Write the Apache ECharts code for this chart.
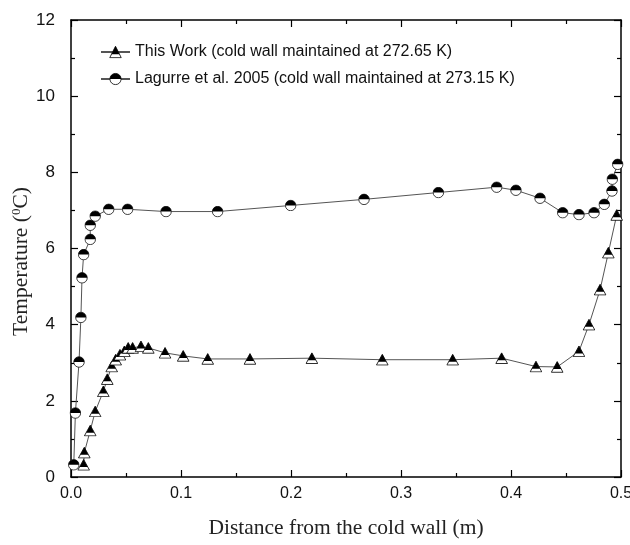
<!DOCTYPE html>
<html>
<head>
<meta charset="utf-8">
<script src="https://cdn.jsdelivr.net/npm/echarts@6/dist/echarts.min.js"></script>
<style>html,body{margin:0;padding:0;background:#fff}#c{width:630px;height:545px}</style>
</head>
<body>
<div id="c"></div>
<script>
const xThis = [0.0115, 0.0121, 0.0175, 0.022, 0.0294, 0.033, 0.037, 0.0406, 0.0445, 0.0485, 0.052, 0.056, 0.0636, 0.0703, 0.0855, 0.102, 0.1243, 0.1627, 0.219, 0.283, 0.347, 0.3915, 0.4227, 0.442, 0.4618, 0.4709, 0.481, 0.4885, 0.4961];
const yThis = [0.32, 0.64, 1.22, 1.72, 2.25, 2.57, 2.90, 3.08, 3.21, 3.30, 3.39, 3.39, 3.43, 3.39, 3.26, 3.18, 3.10, 3.10, 3.12, 3.08, 3.08, 3.12, 2.90, 2.89, 3.30, 4.00, 4.92, 5.89, 6.88];
const xLag = [0.0025, 0.004, 0.0073, 0.009, 0.01, 0.0115, 0.0175, 0.0175, 0.022, 0.0343, 0.0515, 0.0864, 0.1333, 0.1997, 0.2664, 0.334, 0.387, 0.4045, 0.4264, 0.447, 0.4618, 0.4755, 0.4848, 0.4918, 0.4921, 0.497];
const yLag = [0.32, 1.68, 3.02, 4.19, 5.23, 5.84, 6.24, 6.61, 6.85, 7.03, 7.03, 6.97, 6.97, 7.13, 7.29, 7.47, 7.61, 7.53, 7.32, 6.94, 6.89, 6.94, 7.16, 7.51, 7.82, 8.21];
const seriesNames = ['This Work (cold wall maintained at 272.65 K)', 'Lagurre et al. 2005 (cold wall maintained at 273.15 K)'];
const xTicks = {min: 0, max: 0.5, interval: 0.1};
const yTicks = {min: 0, max: 12, interval: 2};

const triSvg = '<svg xmlns="http://www.w3.org/2000/svg" width="40" height="36" viewBox="0 0 40 36"><polygon points="20,2 38,34 2,34" fill="#fff" stroke="#000" stroke-width="2.5"/><polygon points="20,2 32.5,24.5 7.5,24.5" fill="#000"/></svg>';
const cirSvg = '<svg xmlns="http://www.w3.org/2000/svg" width="40" height="40" viewBox="0 0 40 40"><circle cx="20" cy="20" r="17.5" fill="#fff" stroke="#000" stroke-width="2.5"/><path d="M2.5,20 A17.5,17.5 0 0 1 37.5,20 Z" fill="#000"/></svg>';
const triSym = 'image://data:image/svg+xml;charset=utf-8,' + encodeURIComponent(triSvg);
const cirSym = 'image://data:image/svg+xml;charset=utf-8,' + encodeURIComponent(cirSvg);

const zip = (a, b) => a.map((v, i) => [v, b[i]]);
const axisCommon = {
  axisLine: {show: true, onZero: false, lineStyle: {color: '#000', width: 1.5}},
  axisTick: {show: true, inside: true, length: 7, lineStyle: {color: '#000', width: 1.2}},
  minorTick: {show: true, splitNumber: 2, length: 4, lineStyle: {color: '#000', width: 1.2}},
  splitLine: {show: false}
};
const titleFont = 'Liberation Serif, Times New Roman';
const chart = echarts.init(document.getElementById('c'), null, {renderer: 'canvas'});
chart.setOption({
  animation: false,
  backgroundColor: '#fff',
  grid: {left: 71, right: 9, top: 20, bottom: 68, containLabel: false, outerBoundsMode: 'none'},
  legend: {
    orient: 'vertical', left: 95, top: 39, itemWidth: 29, itemHeight: 16, itemGap: 11,
    textStyle: {fontFamily: 'Liberation Sans, Arial', fontSize: 16, color: '#111'},
    data: seriesNames
  },
  xAxis: [
    Object.assign({type: 'value', position: 'bottom', min: xTicks.min, max: xTicks.max, interval: xTicks.interval,
      name: 'Distance from the cold wall (m)', nameLocation: 'middle', nameGap: 40, nameMoveOverlap: false,
      nameTextStyle: {fontFamily: titleFont, fontSize: 21.5, color: '#222'},
      axisLabel: {margin: 9, fontFamily: 'Liberation Sans, Arial', fontSize: 16, color: '#111', formatter: v => v.toFixed(1)}}, axisCommon),
    Object.assign({type: 'value', position: 'top', min: xTicks.min, max: xTicks.max, interval: xTicks.interval,
      axisLabel: {show: false}}, axisCommon)
  ],
  yAxis: [
    Object.assign({type: 'value', position: 'left', min: yTicks.min, max: yTicks.max, interval: yTicks.interval,
      name: 'Temperature ({sup|0}C)', nameLocation: 'middle', nameGap: 38, nameMoveOverlap: false,
      nameTextStyle: {fontFamily: titleFont, fontSize: 21.5, color: '#222', padding: [0, 26, 0, 0],
        rich: {sup: {fontFamily: titleFont, fontSize: 13, color: '#222', verticalAlign: 'top', padding: [0, 0, 10, 0]}}},
      axisLabel: {margin: 16, fontFamily: 'Liberation Sans, Arial', fontSize: 17, color: '#111'}}, axisCommon),
    Object.assign({type: 'value', position: 'right', min: yTicks.min, max: yTicks.max, interval: yTicks.interval,
      axisLabel: {show: false}}, axisCommon)
  ],
  series: [
    {name: seriesNames[0], type: 'line', data: zip(xThis, yThis), symbol: triSym, symbolSize: [13, 12],
      lineStyle: {color: '#555', width: 1}, itemStyle: {color: '#000'}, z: 3},
    {name: seriesNames[1], type: 'line', data: zip(xLag, yLag), symbol: cirSym, symbolSize: 12,
      lineStyle: {color: '#555', width: 1}, itemStyle: {color: '#000'}, z: 4}
  ]
});
</script>
</body>
</html>
